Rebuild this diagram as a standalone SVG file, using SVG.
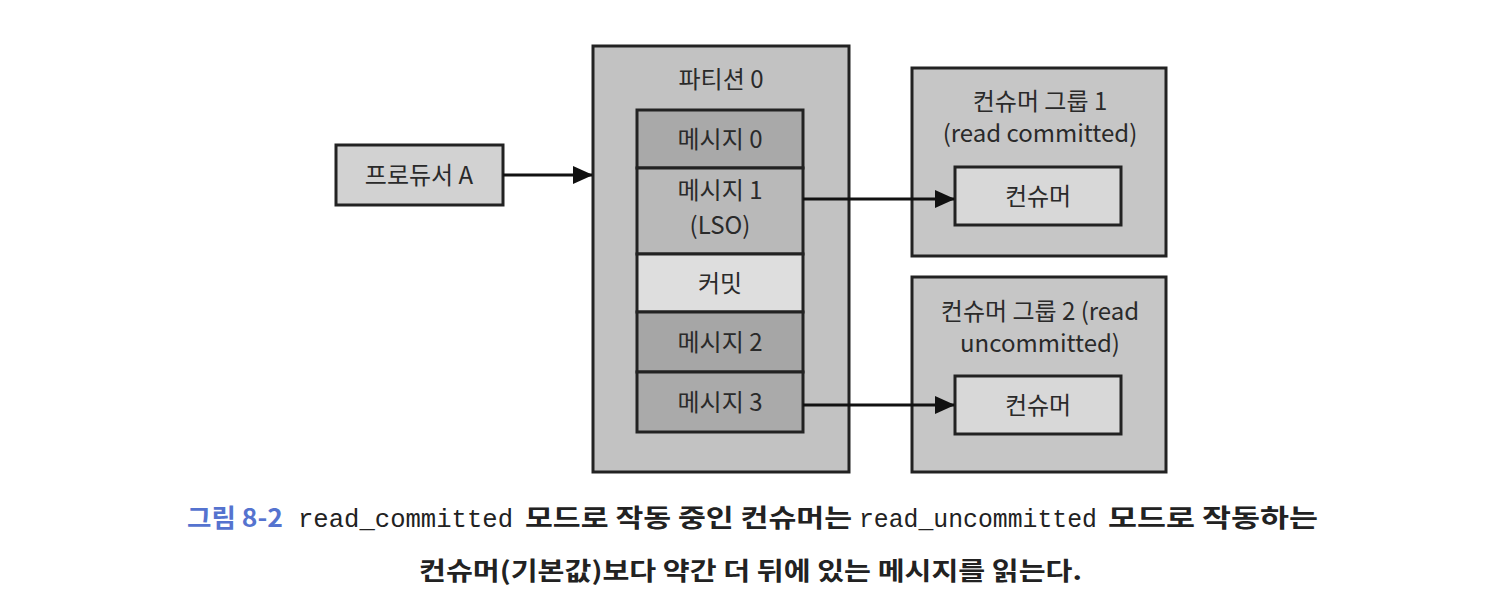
<svg xmlns="http://www.w3.org/2000/svg" width="1490" height="598" viewBox="0 0 1490 598">
<defs>
<marker id="ah" markerWidth="20" markerHeight="20" refX="19" refY="10" orient="auto" markerUnits="userSpaceOnUse" viewBox="0 0 20 20">
<path d="M0,1 L20,10 L0,19 z" fill="#111"/>
</marker>
</defs>
<style>
.box{stroke:#222;stroke-width:3}
.lbl{font-family:"Noto Sans CJK KR","Noto Sans",sans-serif;font-size:24px;fill:#2a2a2a;text-anchor:middle}
.conn{stroke:#111;stroke-width:3;fill:none}
.cap{font-family:"Noto Sans CJK KR",sans-serif;font-size:25px;font-weight:bold;fill:#222}
.mono{font-family:"Liberation Mono","DejaVu Sans Mono",monospace;font-size:25px;fill:#222}
</style>
<rect width="1490" height="598" fill="#fff"/>
<g id="producer">
<rect class="box" x="336" y="145" width="167" height="60" fill="#d2d2d2"/>
<text class="lbl" x="419" y="184">프로듀서 A</text>
</g>
<g id="partition0">
<rect class="box" x="593" y="46" width="256" height="426" fill="#c2c2c2"/>
<text class="lbl" x="721" y="88">파티션 0</text>
</g>
<g id="msg0">
<rect class="box" x="637" y="110" width="166" height="58" fill="#a9a9a9"/>
<text class="lbl" x="720" y="148">메시지 0</text>
</g>
<g id="msg1">
<rect class="box" x="637" y="168" width="166" height="86" fill="#b9b9b9"/>
<text class="lbl" x="720" y="199">메시지 1</text>
<text class="lbl" x="720" y="234">(LSO)</text>
</g>
<g id="commit">
<rect class="box" x="637" y="254" width="166" height="58" fill="#dedede"/>
<text class="lbl" x="720" y="292">커밋</text>
</g>
<g id="msg2">
<rect class="box" x="637" y="312" width="166" height="60" fill="#a6a6a6"/>
<text class="lbl" x="720" y="351">메시지 2</text>
</g>
<g id="msg3">
<rect class="box" x="637" y="372" width="166" height="60" fill="#aaaaaa"/>
<text class="lbl" x="720" y="411">메시지 3</text>
</g>
<g id="group1">
<rect class="box" x="912" y="68" width="254" height="188" fill="#c6c6c6"/>
<text class="lbl" x="1040" y="110">컨슈머 그룹 1</text>
<text class="lbl" x="1040" y="142">(read committed)</text>
</g>
<g id="consumer1">
<rect class="box" x="955" y="167" width="166" height="58" fill="#d8d8d8"/>
<text class="lbl" x="1038" y="205">컨슈머</text>
</g>
<g id="group2">
<rect class="box" x="912" y="277" width="254" height="195" fill="#c6c6c6"/>
<text class="lbl" x="1040" y="320">컨슈머 그룹 2 (read</text>
<text class="lbl" x="1040" y="352">uncommitted)</text>
</g>
<g id="consumer2">
<rect class="box" x="955" y="376" width="166" height="58" fill="#d8d8d8"/>
<text class="lbl" x="1038" y="414">컨슈머</text>
</g>
<g id="connectors">
<line class="conn" x1="503" y1="175" x2="592" y2="175" marker-end="url(#ah)"/>
<line class="conn" x1="803" y1="199" x2="954" y2="199" marker-end="url(#ah)"/>
<line class="conn" x1="803" y1="405" x2="954" y2="405" marker-end="url(#ah)"/>
</g>
<g id="caption">
<text class="cap" x="187" y="527" style="fill:#5573cf" textLength="96" lengthAdjust="spacingAndGlyphs">그림 8-2</text>
<text class="mono" x="298" y="527" textLength="215" lengthAdjust="spacingAndGlyphs">read_committed</text>
<text class="cap" x="525" y="527" textLength="327" lengthAdjust="spacingAndGlyphs">모드로 작동 중인 컨슈머는</text>
<text class="mono" x="859" y="527" textLength="238" lengthAdjust="spacingAndGlyphs">read_uncommitted</text>
<text class="cap" x="1108" y="527" textLength="210" lengthAdjust="spacingAndGlyphs">모드로 작동하는</text>
<text class="cap" x="419" y="580" textLength="663" lengthAdjust="spacingAndGlyphs">컨슈머(기본값)보다 약간 더 뒤에 있는 메시지를 읽는다.</text>
</g>
</svg>
